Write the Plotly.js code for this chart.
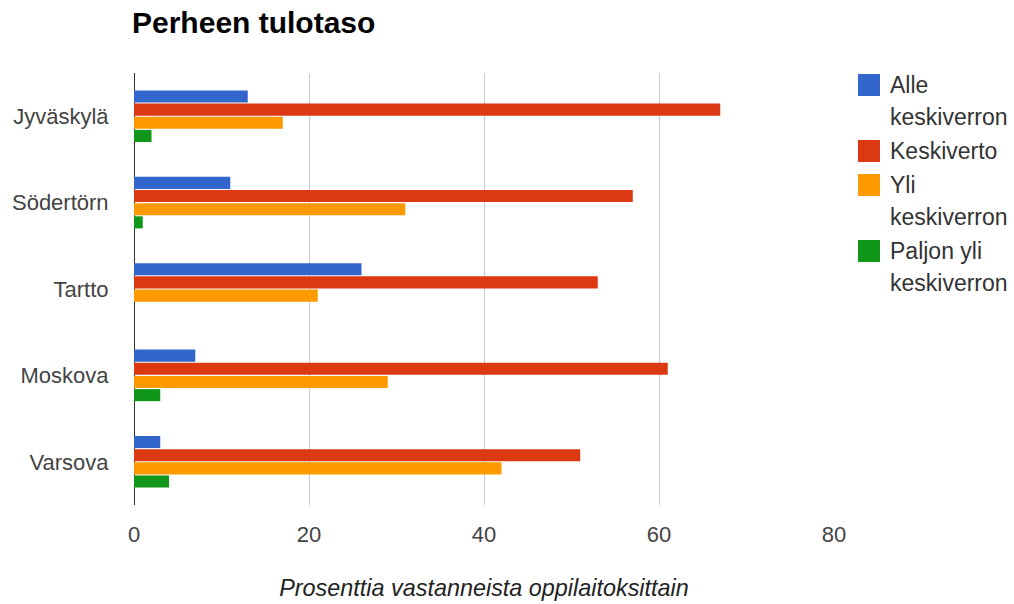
<!DOCTYPE html>
<html>
<head>
<meta charset="utf-8">
<script src="https://cdn.plot.ly/plotly-3.0.1.min.js"></script>
<style>html,body{margin:0;padding:0;background:#fff;}#chart{width:1014px;height:604px;}</style>
</head>
<body>
<div id="chart"></div>
<script>
const categories = ['Jyväskylä', 'Södertörn', 'Tartto', 'Moskova', 'Varsova'];
const seriesNames = ['Alle keskiverron', 'Keskiverto', 'Yli keskiverron', 'Paljon yli keskiverron'];
const alleKeskiverron = [13, 11, 26, 7, 3];
const keskiverto = [67, 57, 53, 61, 51];
const yliKeskiverron = [17, 31, 21, 29, 42];
const paljonYliKeskiverron = [2, 1, 0, 3, 4];
const xTickValues = [0, 20, 40, 60, 80];
const colors = ['#3366cc', '#dc3912', '#ff9900', '#109618'];

const seriesValues = [alleKeskiverron, keskiverto, yliKeskiverron, paljonYliKeskiverron];
const FONT = 'Arial, "Liberation Sans", sans-serif';

const traces = seriesValues.map((vals, i) => ({
  type: 'bar',
  orientation: 'h',
  name: seriesNames[i],
  y: categories,
  x: vals,
  marker: {color: colors[i]},
  hoverinfo: 'x+name'
}));

// Plot area in pixels
const L = 134, R = 834, T = 73, B = 505;
const W = R - L, H = B - T;
const px2x = px => (px - L) / W;
const py2y = py => (B - py) / H;

function wrap(name, maxLen) {
  const words = name.split(' ');
  const lines = [];
  let cur = '';
  words.forEach(w => {
    if (cur && (cur + ' ' + w).length > maxLen) { lines.push(cur); cur = w; }
    else cur = cur ? cur + ' ' + w : w;
  });
  if (cur) lines.push(cur);
  return lines;
}

const annotations = [];
const shapes = [];
let yy = 85;
seriesNames.forEach((name, i) => {
  const lines = wrap(name, 11);
  shapes.push({
    type: 'rect', xref: 'paper', yref: 'paper',
    x0: px2x(858), x1: px2x(880), y0: py2y(yy + 11), y1: py2y(yy - 11),
    fillcolor: colors[i], line: {width: 0}
  });
  lines.forEach((ln, j) => {
    annotations.push({
      xref: 'paper', yref: 'paper', x: px2x(888), y: py2y(yy),
      xanchor: 'left', yanchor: 'middle', showarrow: false,
      text: ln, font: {family: FONT, size: 23, color: '#333'}
    });
    if (j < lines.length - 1) yy += 32;
  });
  yy += 34;
});

const layout = {
  width: 1014, height: 604,
  paper_bgcolor: '#fff', plot_bgcolor: '#fff',
  margin: {l: L, r: 1014 - R, t: T, b: 604 - B, pad: 0},
  showlegend: false,
  barmode: 'group',
  bargap: 0.39,
  bargroupgap: 0.08,
  title: {
    text: '<b>Perheen tulotaso</b>',
    x: 132 / 1014, xref: 'container', xanchor: 'left',
    y: 1 - 22 / 604, yref: 'container', yanchor: 'middle',
    font: {family: FONT, size: 30, color: '#000'}
  },
  xaxis: {
    range: [0, 80],
    tickvals: xTickValues,
    ticktext: xTickValues.map(String),
    showgrid: true, gridcolor: '#cccccc', gridwidth: 1,
    zeroline: true, zerolinecolor: '#333', zerolinewidth: 1,
    showline: false,
    ticks: 'outside', ticklen: 10, tickcolor: 'rgba(0,0,0,0)',
    tickfont: {family: FONT, size: 22, color: '#444'},
    title: {
      text: '<i>Prosenttia vastanneista oppilaitoksittain</i>',
      font: {family: FONT, size: 23.4, color: '#222'},
      standoff: 33
    },
    fixedrange: true
  },
  yaxis: {
    autorange: 'reversed',
    showgrid: false, zeroline: false, showline: false,
    ticks: 'outside', ticklen: 20, tickcolor: 'rgba(0,0,0,0)',
    tickfont: {family: FONT, size: 22, color: '#444'},
    fixedrange: true
  },
  shapes: shapes,
  annotations: annotations
};

Plotly.newPlot('chart', traces, layout, {displayModeBar: false, staticPlot: true});
</script>
</body>
</html>
